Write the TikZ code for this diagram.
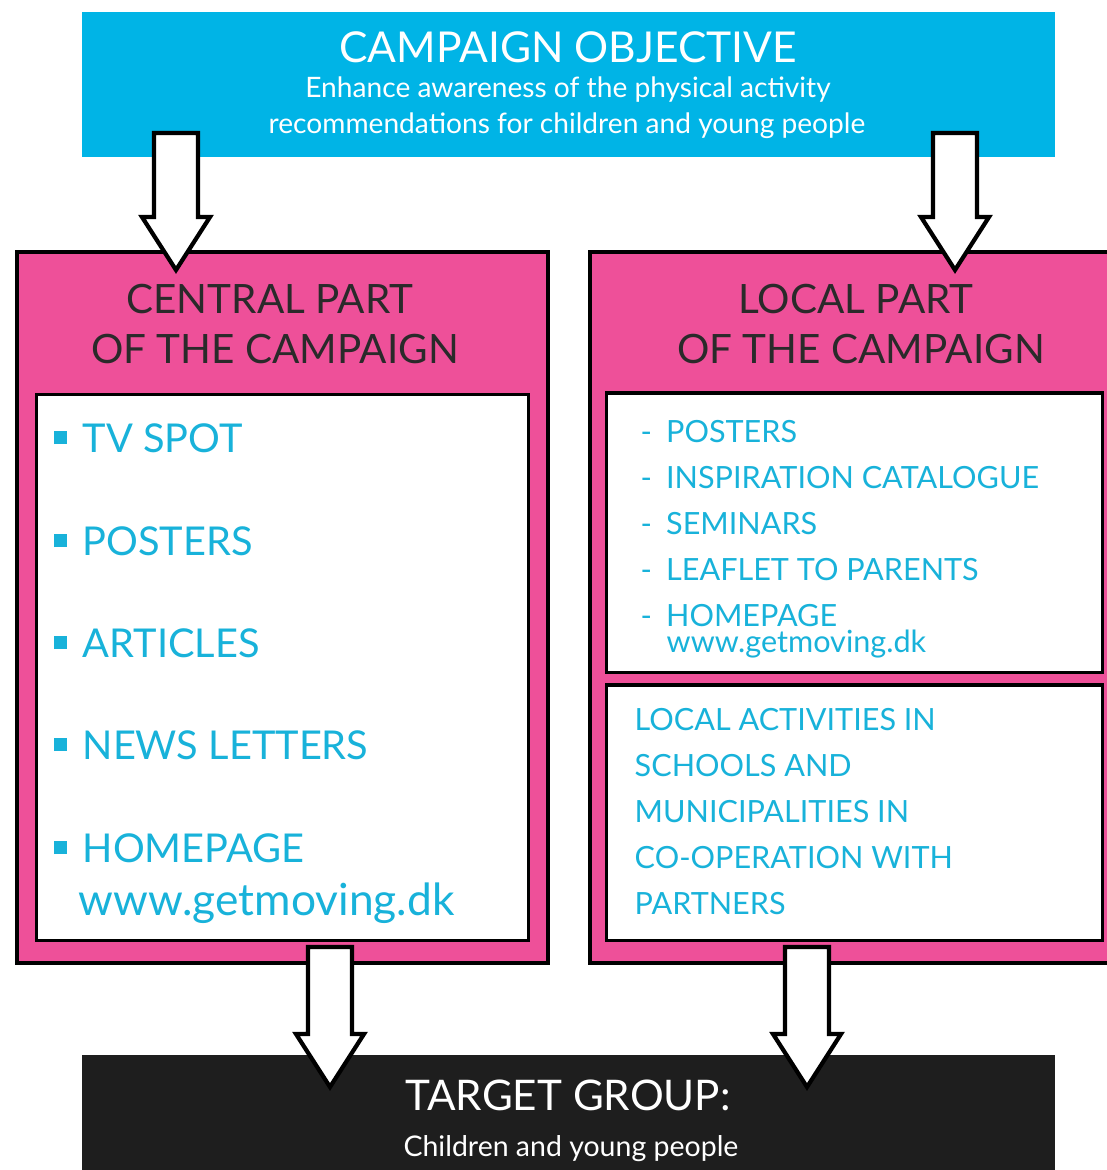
\documentclass[tikz,border=0pt]{standalone}
\usepackage{fontspec}
\setmainfont{Lato}
\usetikzlibrary{calc}

\definecolor{skyblue}{HTML}{00B4E6}
\definecolor{hotpink}{HTML}{EE5099}
\definecolor{itemcyan}{HTML}{18B2DA}
\definecolor{headgrey}{HTML}{2A2A2A}
\definecolor{nearblack}{HTML}{1E1E1E}

% big hollow arrow: #1 = top of the shaft, #2 = tip
\newcommand{\fatarrow}[2]{%
  \draw[line width=1.2pt, fill=white, line join=miter]
    ($(#1)+(-22,0)$) -- ($(#2)+(-22,-53)$) -- ($(#2)+(-34,-53)$) -- (#2)
    -- ($(#2)+(34,-53)$) -- ($(#2)+(22,-53)$) -- ($(#1)+(22,0)$) -- cycle;}

\begin{document}
\begin{tikzpicture}[x=0.01cm, y=-0.01cm,
  box/.style={draw, line width=1.2pt, inner sep=0pt},
  inbox/.style={draw, line width=0.9pt, fill=white, inner sep=0pt},
  head/.style={anchor=base, inner sep=0pt, text=headgrey, font=\fontsize{11.5}{14}\selectfont},
  bigitem/.style={anchor=base west, inner sep=0pt, text=itemcyan, font=\fontsize{11.3}{14}\selectfont},
  smallitem/.style={anchor=base west, inner sep=0pt, text=itemcyan, font=\fontsize{8.7}{10}\selectfont}]

\useasboundingbox (0,0) rectangle (1106,1170);

% objective on top
\node[fill=skyblue, inner sep=0pt, minimum width=9.73cm, minimum height=1.45cm] (1) at (568.5,84.5) {};
\node[anchor=base, text=white, font=\fontsize{12.1}{14}\selectfont] (1a) at (568,63) {CAMPAIGN OBJECTIVE};
\node[anchor=base, text=white, font=\fontsize{8}{10}\selectfont] (1b) at (568,98) {Enhance awareness of the physical activity};
\node[anchor=base, text=white, font=\fontsize{8}{10}\selectfont] (1c) at (567,134) {recommendations for children and young people};

% central part
\node[box, fill=hotpink, minimum width=5.31cm, minimum height=7.11cm] (2) at (282.5,607.5) {};
\node[head] at (270,313) {CENTRAL PART};
\node[head] at (275,363) {OF THE CAMPAIGN};
\node[inbox, minimum width=4.91cm, minimum height=5.45cm] (2a) at (282.5,667.5) {};

\node[bigitem] at (53,452) {\rule[0.2em]{0.33em}{0.33em}\hspace{4.5pt}TV SPOT};
\node[bigitem] at (53,555) {\rule[0.2em]{0.33em}{0.33em}\hspace{4.5pt}POSTERS};
\node[bigitem] at (53,657) {\rule[0.2em]{0.33em}{0.33em}\hspace{4.5pt}ARTICLES};
\node[bigitem] at (53,759) {\rule[0.2em]{0.33em}{0.33em}\hspace{4.5pt}NEWS LETTERS};
\node[bigitem] at (53,862) {\rule[0.2em]{0.33em}{0.33em}\hspace{4.5pt}HOMEPAGE};
\node[bigitem, font=\fontsize{12.6}{15}\selectfont] at (78,915) {www.getmoving.dk};

% local part
\node[box, fill=hotpink, minimum width=5.22cm, minimum height=7.11cm] (3) at (851,607.5) {};
\node[head] at (856,313) {LOCAL PART};
\node[head] at (861,363) {OF THE CAMPAIGN};
\node[inbox, minimum width=4.95cm, minimum height=2.79cm] (3a) at (854.5,532.5) {};
\node[inbox, minimum width=4.95cm, minimum height=2.55cm] (3b) at (854.5,812.5) {};

\node[smallitem] at (640,442) {-\hspace{4pt}POSTERS};
\node[smallitem] at (640,488) {-\hspace{4pt}INSPIRATION CATALOGUE};
\node[smallitem] at (640,534) {-\hspace{4pt}SEMINARS};
\node[smallitem] at (640,580) {-\hspace{4pt}LEAFLET TO PARENTS};
\node[smallitem] at (640,626) {-\hspace{4pt}HOMEPAGE};
\node[smallitem] at (666,652) {www.getmoving.dk};

\node[smallitem] at (634,730) {LOCAL ACTIVITIES IN};
\node[smallitem] at (634,776) {SCHOOLS AND};
\node[smallitem] at (634,822) {MUNICIPALITIES IN};
\node[smallitem] at (634,868) {CO-OPERATION WITH};
\node[smallitem] at (634,914) {PARTNERS};

% target group
\node[fill=nearblack, inner sep=0pt, minimum width=9.73cm, minimum height=1.3cm] (4) at (568.5,1120) {};
\node[anchor=base, text=white, font=\fontsize{12}{15}\selectfont] (4a) at (568,1110) {TARGET GROUP:};
\node[anchor=base, text=white, font=\fontsize{8.1}{10}\selectfont] (4b) at (571,1156) {Children and young people};

% arrows between the boxes
\coordinate (a) at (176,133);
\coordinate (b) at (176,270);
\fatarrow{a}{b}
\coordinate (a) at (955,133);
\coordinate (b) at (955,270);
\fatarrow{a}{b}
\coordinate (a) at (330,947);
\coordinate (b) at (330,1087);
\fatarrow{a}{b}
\coordinate (a) at (807,947);
\coordinate (b) at (807,1087);
\fatarrow{a}{b}

\end{tikzpicture}
\end{document}
